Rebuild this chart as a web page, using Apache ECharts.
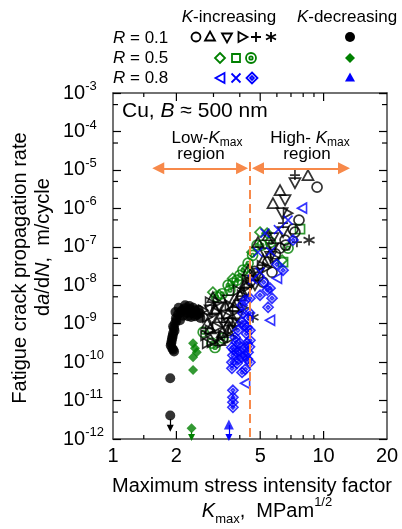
<!DOCTYPE html>
<html>
<head>
<meta charset="utf-8">
<script src="https://cdn.jsdelivr.net/npm/echarts@6/dist/echarts.min.js"></script>
<style>
  html, body { margin: 0; padding: 0; background: #fff; }
  #chart { width: 402px; height: 529px; }
</style>
</head>
<body>
<div id="chart"></div>
<script>
// axes
const X_MIN = 1, X_MAX = 20, Y_MIN = 1e-12, Y_MAX = 1e-3;
const X_LABELS = [1, 2, 5, 10, 20];
const X_TICKS_MAJOR = [2, 5, 10];
const X_TICKS_MINOR = [1.4, 3, 4, 6, 7, 8, 9];
const Y_TICKS_MINOR = [5e-12, 5e-11, 5e-10, 5e-9, 5e-8, 5e-7, 5e-6, 5e-5, 5e-4];

// [Kmax (MPam^1/2), da/dN (m/cycle)]
// R = 0.1, K-increasing
const r01Circle = [[9.31,3.56e-6],[7.64,4.93e-7],[7.16,2.87e-7],[7.31,2.4e-7],[6.56,1.49e-7],[6.21,9.2e-8],[5.45,3.97e-8],[5.69,2.18e-8],[4.88,1.62e-8],[5.16,1.2e-8],[4.7,2.3e-8],[5.9,6.5e-8],[6.6,1.1e-7],[4.5,1.3e-8]];
const r01TriUp = [[8.43,7.33e-6],[6.21,2.98e-6],[5.75,1.37e-6],[5.45,2.0e-7],[4.88,1.32e-7],[5.16,4.48e-8],[4.38,2.46e-8],[4.24,1.13e-8],[4.01,5.5e-9],[3.88,3.6e-9],[3.40,3.0e-9],[2.98,4.9e-9],[3.52,1.87e-9],[3.22,1.47e-9],[2.80,1.02e-9],[3.52,6.7e-10],[3.22,3.7e-10],[3.05,2.5e-9],[3.6,1.2e-9],[3.3,6.0e-10],[2.9,7.5e-10],[4.1,7.0e-9],[4.6,1.8e-8],[3.75,2.9e-9]];
const r01TriDown = [[7.31,4.53e-6],[6.56,1.64e-6],[6.35,7.5e-7],[6.42,2.4e-7],[5.75,1.68e-7],[5.75,9.2e-8],[5.27,6.8e-8],[4.72,1.0e-8],[3.52,4.07e-9],[2.89,2.23e-9],[3.33,1.02e-9],[3.71,1.02e-9],[3.05,4.4e-10],[3.2,2.6e-9],[3.9,1.5e-9],[3.45,8.0e-10],[4.3,6.5e-9],[4.9,2.0e-8],[5.6,5.5e-8],[2.95,1.3e-9]];
const r01TriRight = [[6.78,7.5e-7],[5.88,5.05e-8],[5.39,2.94e-8],[4.33,1.35e-8],[3.92,7.4e-9],[4.10,5.5e-9],[3.59,3.0e-9],[3.88,2.23e-9],[3.15,3.6e-9],[2.89,3.6e-9],[2.68,2.23e-9],[2.80,1.47e-9],[3.12,8.1e-10],[2.89,6.7e-10],[3.88,1.02e-9],[3.33,5.0e-10],[3.67,4.4e-10],[2.95,3.3e-10],[2.80,3.1e-10],[3.45,1.6e-9],[3.1,2.0e-9],[3.7,7.5e-10],[4.15,2.6e-9],[3.3,3.3e-10],[4.4,9.5e-9],[5.1,3.2e-8],[2.75,5.0e-10]];
const r01Plus = [[7.31,7.33e-6],[6.42,4.1e-7],[7.47,1.32e-7]];
const r01Star = [[8.53,1.49e-7],[4.62,1.47e-9]];
// R = 0.1, K-decreasing
const r01Dec = [[2.59,1.87e-9],[2.45,2.23e-9],[2.32,2.37e-9],[2.20,2.52e-9],[2.13,2.23e-9],[2.04,1.76e-9],[1.99,1.38e-9],[1.97,1.02e-9],[1.95,7.6e-10],[1.93,5.6e-10],[1.91,4.2e-10],[1.89,3.1e-10],[1.91,2.3e-10],[1.95,1.9e-10],[2.27,1.56e-9],[2.08,1.23e-9],[2.20,3.0e-9],[2.45,1.56e-9],[2.36,1.9e-9],[2.60,1.4e-9],[2.05,2.6e-9],[1.98,2.0e-9],[2.15,1.6e-9],[2.25,1.9e-9],[2.35,1.5e-9],[2.5,1.7e-9],[2.55,2.3e-9],[2.0,1.2e-9],[2.1,2.0e-9],[1.93,8.5e-10],[1.96,6.5e-10],[1.92,4.8e-10],[1.90,3.6e-10],[1.88,2.7e-10],[1.93,2.1e-10],[2.3,2.9e-9],[2.4,2.6e-9],[1.87,3.8e-11],[1.87,4.1e-12]];

// R = 0.5
const r05Diamond = [[2.98,6.6e-9],[4.33,2.77e-8],[4.57,7.2e-8],[4.99,2.4e-7],[5.39,2.26e-7],[6.35,4.48e-8],[3.2,5.5e-9],[3.7,1.5e-8]];
const r05Square = [[7.73,2.87e-7],[6.42,3.97e-8]];
const r05Target = [[3.05,2.4e-10],[3.33,4.2e-10],[2.68,6.0e-10],[2.95,3.1e-10],[3.59,7.4e-9],[3.52,1.0e-8],[3.71,1.13e-8],[3.88,1.35e-8],[4.14,2.46e-8],[4.38,3.74e-8],[4.83,1.1e-7],[5.10,1.1e-7],[6.78,9.2e-8],[3.3,6.0e-9],[3.1,5.0e-9],[4.6,6.0e-8],[4.0,1.8e-8],[5.6,1.3e-7]];
const r05Dec = [[2.40,3.1e-10],[2.45,2.3e-10],[2.50,1.8e-10],[2.40,1.33e-10],[2.40,6.2e-11],[2.36,1.9e-12]];

// R = 0.8
const r08TriLeft = [[7.90,1.01e-6],[6.01,1.52e-8],[5.57,1.23e-9],[4.24,2.8e-11]];
const r08Cross = [[6.78,4.93e-7],[5.27,2.26e-7],[4.88,7.2e-8],[4.99,2.18e-8],[4.6,1.4e-8],[5.6,7.5e-8],[6.1,2.8e-7]];
const r08DiaDot = [[7.16,1.49e-7],[6.42,2.46e-8],[5.57,8.4e-9],[5.69,4.6e-9],[5.45,2.67e-9],[4.99,5.5e-9],[4.47,4.6e-9],[4.24,4.07e-9],[4.10,3.0e-9],[4.14,1.87e-9],[4.10,1.09e-9],[4.33,8.1e-10],[3.92,6.7e-10],[4.47,6.7e-10],[3.80,4.4e-10],[4.01,3.1e-10],[4.47,3.7e-10],[3.67,2.4e-10],[3.88,1.8e-10],[3.71,1.5e-10],[4.10,1.33e-10],[4.24,1.5e-10],[3.67,9.9e-11],[3.88,9.3e-11],[3.67,6.9e-11],[4.10,5.4e-11],[4.33,3.1e-10],[4.38,1.8e-10],[4.47,9.9e-11],[4.2,9e-10],[4.3,5.5e-10],[4.2,2.3e-10],[4.35,1.2e-10],[4.0,1.9e-10],[3.85,3.3e-10],[4.45,2.5e-10],[4.4,1.4e-9],[4.25,6.5e-11],[3.95,1.2e-10],[3.75,2.1e-10],[4.45,1.9e-9],[5.2,1.2e-8],[5.4,7.5e-9],[6.0,3.5e-8],[3.71,1.85e-11],[3.71,1.21e-11],[3.71,9.0e-12],[3.71,6.7e-12]];
const r08Dec = [[3.55,2.4e-12]];

// annotation positions
const K_BOUNDARY = 4.47;
const ARROW_RATE = 1.1e-5;

const FONT = '"Liberation Sans", Arial, sans-serif';
const ORANGE = '#f7894a';
const GREEN = '#008000';
const BLUE = '#0000ff';
const BLK = '#000';

const SYM = {
  circle: 'M0,5A5,5 0 1,1 10,5A5,5 0 1,1 0,5Z',
  triUp: 'M5,0L10,9L0,9Z',
  triDown: 'M0,0L10,0L5,9Z',
  triRight: 'M0,0L9,5L0,10Z',
  triLeft: 'M9,0L0,5L9,10Z',
  plus: 'M5,0L5,10M0,5L10,5',
  star: 'M5,0L5,10M0.7,2.5L9.3,7.5M0.7,7.5L9.3,2.5',
  diamond: 'M5,0L10,5L5,10L0,5Z',
  square: 'M0,0L10,0L10,10L0,10Z',
  target: 'M0,5A5,5 0 1,1 10,5A5,5 0 1,1 0,5Z M3.3,5A1.7,1.7 0 1,1 6.7,5A1.7,1.7 0 1,1 3.3,5Z',
  cross: 'M0,0L10,10M0,10L10,0',
  diaDot: 'M5,0L10,5L5,10L0,5Z M5,3.3L6.7,5L5,6.7L3.3,5Z'
};

// legend key: symbol, centre x, centre y, colour, filled, w, h
const LEGEND_KEYS = [
  ['circle', 196, 37, BLK, false, 9, 9],
  ['triUp', 210, 36, BLK, false, 10, 9],
  ['triDown', 227, 38, BLK, false, 10, 9],
  ['triRight', 243, 37, BLK, false, 9, 10],
  ['plus', 256, 37, BLK, false, 10, 10],
  ['star', 271, 37, BLK, false, 10, 10],
  ['circle', 350, 37, BLK, true, 10, 10],
  ['diamond', 220, 58, GREEN, false, 10, 10],
  ['square', 236, 58, GREEN, false, 8, 8],
  ['target', 251, 58, GREEN, false, 10, 10],
  ['diamond', 350, 58, GREEN, true, 10, 10],
  ['triLeft', 220, 78, BLUE, false, 9, 10],
  ['cross', 236, 78, BLUE, false, 9, 9],
  ['diaDot', 252, 78, BLUE, false, 11, 11],
  ['triUp', 350, 77, BLUE, true, 10, 9]
];

function openSeries(data, sym, color, size) {
  return {
    type: 'scatter', data: data,
    symbol: 'path://' + SYM[sym], symbolSize: size || 10,
    itemStyle: { color: 'none', borderColor: color, borderWidth: 1.7 },
    emphasis: { disabled: true }, silent: true
  };
}
function filledSeries(data, sym, color, size) {
  return {
    type: 'scatter', data: data,
    symbol: 'path://' + SYM[sym], symbolSize: size || 10,
    itemStyle: { color: color, borderWidth: 0 },
    emphasis: { disabled: true }, silent: true
  };
}
// small down arrow under a point that hit the lower limit
function downArrow(k, from, to, color) {
  return {
    silent: true, animation: false, symbol: ['none', 'triangle'], symbolSize: 7,
    label: { show: false },
    lineStyle: { color: color, width: 1.2, type: 'solid' },
    data: [[{ coord: [k, from] }, { coord: [k, to] }]]
  };
}

function txt(size, extra) {
  return Object.assign({ fontSize: size, fontFamily: FONT, fill: '#000' }, extra || {});
}

const dec01 = filledSeries(r01Dec, 'circle', BLK, 10);
dec01.markLine = downArrow(1.87, 3.3e-12, 1.9e-12, BLK);
const dec05 = filledSeries(r05Dec, 'diamond', GREEN, 10);
dec05.markLine = downArrow(2.36, 1.55e-12, 1.1e-12, GREEN);
const dec08 = filledSeries(r08Dec, 'triUp', BLUE, 10);
dec08.markLine = downArrow(3.55, 2.3e-12, 1.1e-12, BLUE);

const chart = echarts.init(document.getElementById('chart'));
chart.setOption({
  animation: false,
  backgroundColor: '#fff',
  grid: { left: 113, right: 15, top: 93, bottom: 90, containLabel: false, outerBoundsMode: 'none' },
  xAxis: [{
    type: 'log', min: X_MIN, max: X_MAX, position: 'bottom',
    axisLine: { show: true, lineStyle: { color: '#444', width: 1.5 } },
    axisTick: { show: false }, axisLabel: { show: false }, splitLine: { show: false }
  }, {
    type: 'log', min: X_MIN, max: X_MAX, position: 'top',
    axisLine: { show: true, lineStyle: { color: '#444', width: 1.5 } },
    axisTick: { show: false }, axisLabel: { show: false }, splitLine: { show: false }
  }],
  yAxis: [{
    type: 'log', min: Y_MIN, max: Y_MAX, position: 'left', splitNumber: 9,
    axisLine: { show: true, lineStyle: { color: '#444', width: 1.5 } },
    axisTick: { show: true, inside: true, length: 8, lineStyle: { color: '#000', width: 1.2 } },
    splitLine: { show: false },
    axisLabel: {
      align: 'left', margin: 50,
      formatter: function (v) { return '{b|10}{s|' + Math.round(Math.log10(v)) + '}'; },
      rich: {
        b: { fontSize: 20, fontFamily: FONT, color: '#000', lineHeight: 26 },
        s: { fontSize: 13, fontFamily: FONT, color: '#000', lineHeight: 12, verticalAlign: 'top' }
      }
    }
  }, {
    type: 'log', min: Y_MIN, max: Y_MAX, position: 'right', splitNumber: 9,
    axisLine: { show: true, lineStyle: { color: '#444', width: 1.5 } },
    axisTick: { show: true, inside: true, length: 8, lineStyle: { color: '#000', width: 1.2 } },
    axisLabel: { show: false }, splitLine: { show: false }
  }],
  series: [
    dec01, dec05, dec08,
    openSeries(r05Target, 'target', GREEN),
    openSeries(r05Diamond, 'diamond', GREEN),
    openSeries(r05Square, 'square', GREEN, 9),
    openSeries(r01TriRight, 'triRight', BLK, [9, 10]),
    openSeries(r01TriUp, 'triUp', BLK, [11, 10]),
    openSeries(r01TriDown, 'triDown', BLK, [11, 10]),
    openSeries(r01Circle, 'circle', BLK),
    openSeries(r01Plus, 'plus', BLK),
    openSeries(r01Star, 'star', BLK, 11),
    openSeries(r08DiaDot, 'diaDot', BLUE),
    openSeries(r08TriLeft, 'triLeft', BLUE, [9, 10]),
    openSeries(r08Cross, 'cross', BLUE, 9),
    {
      // regions: dashed boundary
      type: 'line', data: [], z: 5,
      markLine: {
        silent: true, animation: false, symbol: ['none', 'none'], label: { show: false },
        lineStyle: { color: ORANGE, width: 2, type: [9, 5] },
        data: [[{ coord: [K_BOUNDARY, 1.6e-5] }, { coord: [K_BOUNDARY, Y_MIN] }]]
      }
    },
    {
      // region double arrows
      type: 'line', data: [], z: 5,
      markLine: {
        silent: true, animation: false, symbol: ['triangle', 'triangle'], symbolSize: 12,
        label: { show: false },
        lineStyle: { color: ORANGE, width: 2, type: 'solid' },
        data: [
          [{ coord: [1.64, ARROW_RATE] }, { coord: [4.10, ARROW_RATE] }],
          [{ coord: [4.88, ARROW_RATE] }, { coord: [12.5, ARROW_RATE] }]
        ]
      }
    },
    {
      // x ticks, bottom and top
      type: 'custom', silent: true, z: 6,
      data: X_TICKS_MAJOR.map(v => [v, Y_MIN, 8]).concat(X_TICKS_MINOR.map(v => [v, Y_MIN, 4])),
      renderItem: function (params, api) {
        const b = api.coord([api.value(0), Y_MIN]);
        const t = api.coord([api.value(0), Y_MAX]);
        const len = api.value(2);
        return { type: 'group', children: [
          { type: 'line', shape: { x1: b[0], y1: b[1], x2: b[0], y2: b[1] - len }, style: { stroke: '#000', lineWidth: 1.2 } },
          { type: 'line', shape: { x1: t[0], y1: t[1], x2: t[0], y2: t[1] + len }, style: { stroke: '#000', lineWidth: 1.2 } }
        ] };
      }
    },
    {
      // y minor ticks, left and right
      type: 'custom', silent: true, z: 6,
      data: Y_TICKS_MINOR.map(v => [X_MIN, v]),
      renderItem: function (params, api) {
        const l = api.coord([X_MIN, api.value(1)]);
        const r = api.coord([X_MAX, api.value(1)]);
        return { type: 'group', children: [
          { type: 'line', shape: { x1: l[0], y1: l[1], x2: l[0] + 5, y2: l[1] }, style: { stroke: '#000', lineWidth: 1.2 } },
          { type: 'line', shape: { x1: r[0], y1: r[1], x2: r[0] - 5, y2: r[1] }, style: { stroke: '#000', lineWidth: 1.2 } }
        ] };
      }
    },
    {
      // x tick labels
      type: 'custom', silent: true,
      data: X_LABELS.map(v => [v, Y_MIN]),
      renderItem: function (params, api) {
        const p = api.coord([api.value(0), Y_MIN]);
        return { type: 'text', style: txt(20, { text: String(api.value(0)), x: p[0], y: p[1] + 17, align: 'center', verticalAlign: 'middle' }) };
      }
    },
    {
      // legend keys (placed in pixels above the plot)
      type: 'custom', coordinateSystem: 'none', silent: true,
      data: LEGEND_KEYS.map((k, i) => i),
      renderItem: function (params, api) {
        const k = LEGEND_KEYS[params.dataIndex];
        const w = k[5], h = k[6];
        return {
          type: 'path',
          shape: { pathData: SYM[k[0]], x: k[1] - w / 2, y: k[2] - h / 2, width: w, height: h, layout: 'cover' },
          style: k[4] ? { fill: k[3], stroke: 'none' } : { fill: 'none', stroke: k[3], lineWidth: 1.8 }
        };
      }
    }
  ],
  graphic: [
    // legend text
    { type: 'text', x: 229, y: 17, style: txt(17, { text: '{i|K}-increasing', align: 'center', verticalAlign: 'middle', rich: { i: txt(17, { fontStyle: 'italic' }) } }) },
    { type: 'text', x: 347, y: 17, style: txt(17, { text: '{i|K}-decreasing', align: 'center', verticalAlign: 'middle', rich: { i: txt(17, { fontStyle: 'italic' }) } }) },
    { type: 'text', x: 113, y: 38, style: txt(17, { text: '{i|R} = 0.1', verticalAlign: 'middle', rich: { i: txt(17, { fontStyle: 'italic' }) } }) },
    { type: 'text', x: 113, y: 58, style: txt(17, { text: '{i|R} = 0.5', verticalAlign: 'middle', rich: { i: txt(17, { fontStyle: 'italic' }) } }) },
    { type: 'text', x: 113, y: 78, style: txt(17, { text: '{i|R} = 0.8', verticalAlign: 'middle', rich: { i: txt(17, { fontStyle: 'italic' }) } }) },
    // annotations inside the plot
    { type: 'text', x: 122, y: 111, style: txt(21, { text: 'Cu, {i|B} \u2248 500 nm', verticalAlign: 'middle', rich: { i: txt(21, { fontStyle: 'italic' }) } }) },
    { type: 'text', x: 207, y: 138, style: txt(17, { text: 'Low-{i|K}{sub|max}', align: 'center', verticalAlign: 'middle', rich: { i: txt(17, { fontStyle: 'italic', lineHeight: 22 }), sub: txt(12, { lineHeight: 12, verticalAlign: 'bottom' }) } }) },
    { type: 'text', x: 201, y: 154, style: txt(17, { text: 'region', align: 'center', verticalAlign: 'middle' }) },
    { type: 'text', x: 310, y: 138, style: txt(17, { text: 'High- {i|K}{sub|max}', align: 'center', verticalAlign: 'middle', rich: { i: txt(17, { fontStyle: 'italic', lineHeight: 22 }), sub: txt(12, { lineHeight: 12, verticalAlign: 'bottom' }) } }) },
    { type: 'text', x: 307, y: 154, style: txt(17, { text: 'region', align: 'center', verticalAlign: 'middle' }) },
    // axis titles
    { type: 'text', x: 20, y: 268, rotation: Math.PI / 2, style: txt(20, { text: 'Fatigue crack propagation rate', align: 'center', verticalAlign: 'middle' }) },
    { type: 'text', x: 43, y: 247, rotation: Math.PI / 2, style: txt(20, { text: 'd{i|a}/d{i|N},  m/cycle', align: 'center', verticalAlign: 'middle', rich: { i: txt(20, { fontStyle: 'italic' }) } }) },
    { type: 'text', x: 252, y: 486, style: txt(20, { text: 'Maximum stress intensity factor', align: 'center', verticalAlign: 'middle' }) },
    { type: 'text', x: 267, y: 511, style: txt(20, { text: '{i|K}{sub|max}{n|,  MPam}{sup|1/2}', align: 'center', verticalAlign: 'middle',
      rich: { i: txt(20, { fontStyle: 'italic', lineHeight: 30 }), n: txt(20, { lineHeight: 30 }), sub: txt(13, { lineHeight: 12, verticalAlign: 'bottom' }), sup: txt(13, { lineHeight: 12, verticalAlign: 'top' }) } }) }
  ]
});
</script>
</body>
</html>
